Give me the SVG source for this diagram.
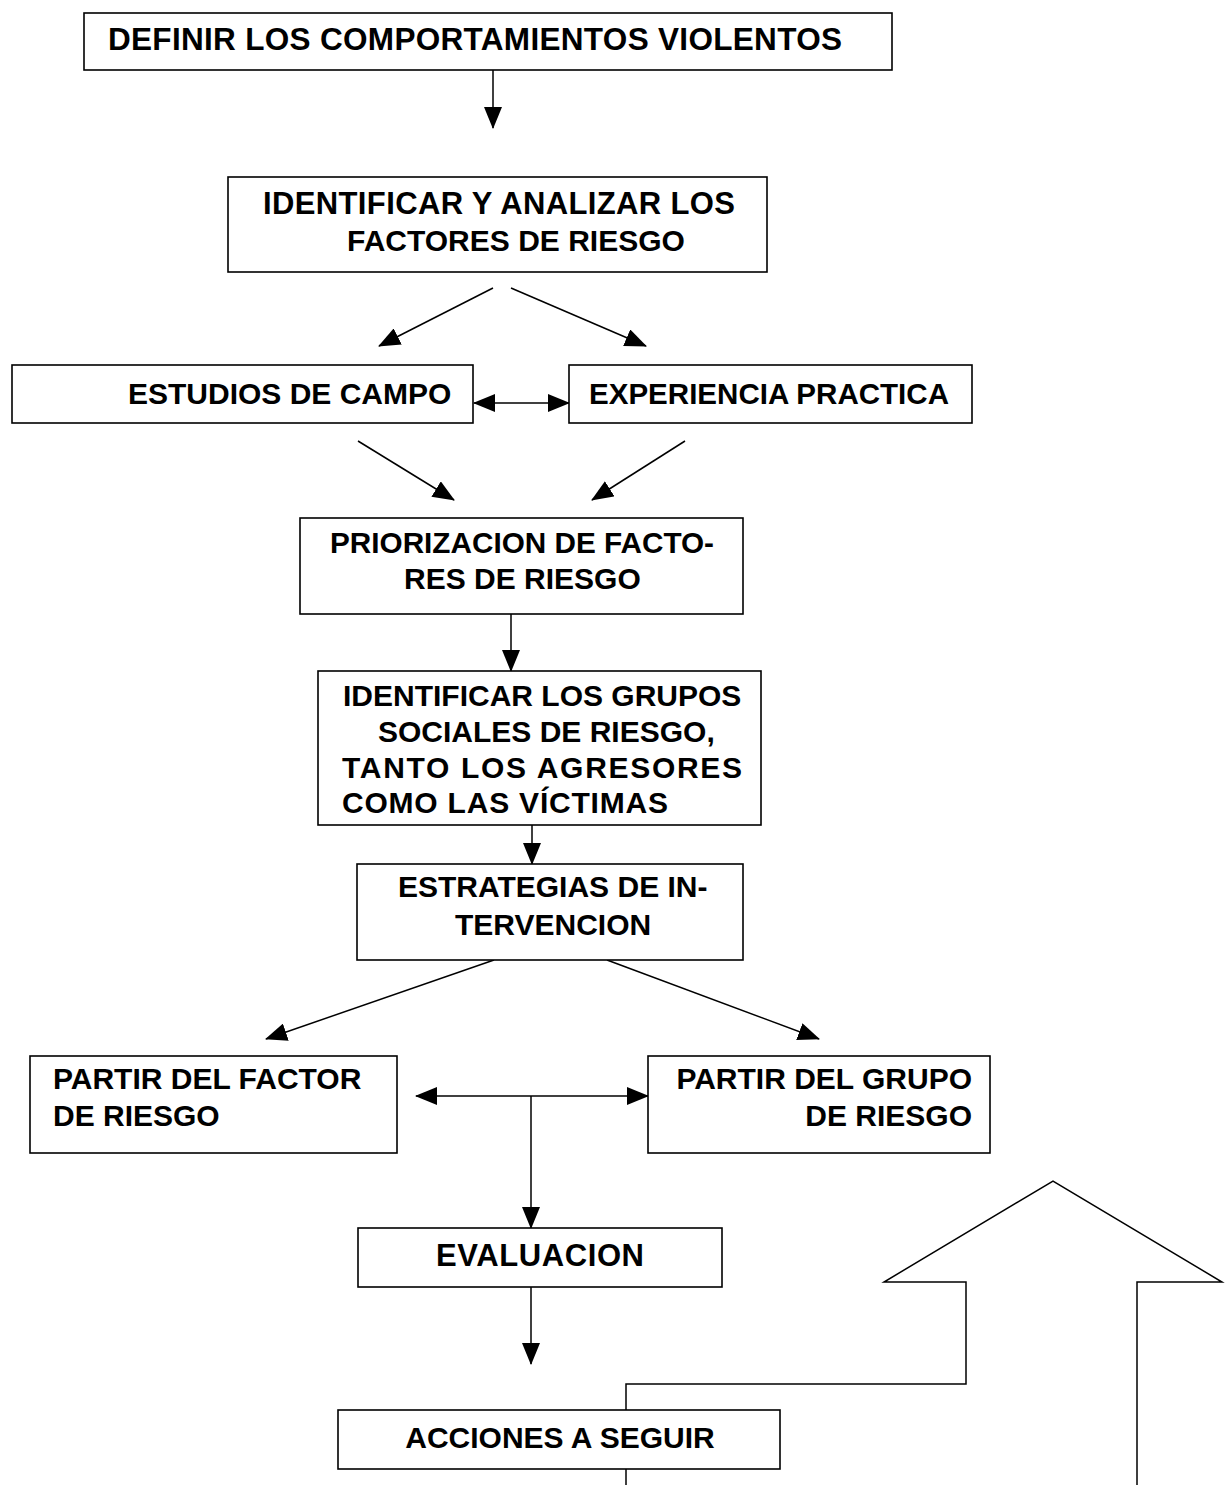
<svg xmlns="http://www.w3.org/2000/svg" width="1232" height="1485" viewBox="0 0 1232 1485">
<defs>
<marker id="ah" markerUnits="userSpaceOnUse" markerWidth="22" markerHeight="18" refX="21" refY="9" orient="auto-start-reverse" viewBox="0 0 22 18">
<path d="M0,0 L22,9 L0,18 z" fill="#000"/>
</marker>
<style>
.box{fill:#fff;stroke:#000;stroke-width:1.6}
.t{font-family:"Liberation Sans",Arial,sans-serif;font-weight:bold;font-size:30px;fill:#000}
.c{fill:none;stroke:#000;stroke-width:1.5}
.a{fill:none;stroke:#000;stroke-width:1.5;marker-end:url(#ah)}
.d{fill:none;stroke:#000;stroke-width:1.5;marker-end:url(#ah);marker-start:url(#ah)}
</style>
</defs>
<rect width="1232" height="1485" fill="#fff"/>
<g id="connectors">
<line class="a" x1="493" y1="70" x2="493" y2="128"/>
<line class="a" x1="493" y1="288" x2="379" y2="346"/>
<line class="a" x1="511" y1="288" x2="646" y2="346"/>
<line class="d" x1="474" y1="403" x2="569" y2="403"/>
<line class="a" x1="358" y1="441" x2="454" y2="500"/>
<line class="a" x1="685" y1="441" x2="592" y2="500"/>
<line class="a" x1="511" y1="614" x2="511" y2="671"/>
<line class="a" x1="532" y1="825" x2="532" y2="864"/>
<line class="a" x1="494" y1="960" x2="266" y2="1039"/>
<line class="a" x1="607" y1="960" x2="819" y2="1039"/>
<line class="d" x1="416" y1="1096" x2="648" y2="1096"/>
<line class="a" x1="531" y1="1096" x2="531" y2="1228"/>
<line class="a" x1="531" y1="1287" x2="531" y2="1364"/>
<polyline class="c" points="626,1410 626,1384 966,1384 966,1282 884,1282 1053,1181 1222,1282 1137,1282 1137,1485"/>
<line class="c" x1="626" y1="1469" x2="626" y2="1485"/>
</g>
<g id="n1">
<rect class="box" x="84" y="13" width="808" height="57"/>
<text class="t" x="108" y="50" style="font-size:31.5px" textLength="734" lengthAdjust="spacing">DEFINIR LOS COMPORTAMIENTOS VIOLENTOS</text>
</g>
<g id="n2">
<rect class="box" x="228" y="177" width="539" height="95"/>
<text class="t" x="263" y="214" style="font-size:31px" textLength="472" lengthAdjust="spacing">IDENTIFICAR Y ANALIZAR LOS</text>
<text class="t" x="347" y="251">FACTORES DE RIESGO</text>
</g>
<g id="n3">
<rect class="box" x="12" y="365" width="461" height="58"/>
<text class="t" x="128" y="404">ESTUDIOS DE CAMPO</text>
</g>
<g id="n4">
<rect class="box" x="569" y="365" width="403" height="58"/>
<text class="t" x="589" y="404" textLength="360" lengthAdjust="spacingAndGlyphs">EXPERIENCIA PRACTICA</text>
</g>
<g id="n5">
<rect class="box" x="300" y="518" width="443" height="96"/>
<text class="t" x="330" y="553" textLength="384" lengthAdjust="spacingAndGlyphs">PRIORIZACION DE FACTO-</text>
<text class="t" x="404" y="589">RES DE RIESGO</text>
</g>
<g id="n6">
<rect class="box" x="318" y="671" width="443" height="154"/>
<text class="t" x="343" y="706">IDENTIFICAR LOS GRUPOS</text>
<text class="t" x="378" y="742">SOCIALES DE RIESGO,</text>
<text class="t" x="342" y="778" textLength="400" lengthAdjust="spacing">TANTO LOS AGRESORES</text>
<text class="t" x="342" y="813" textLength="326" lengthAdjust="spacing">COMO LAS VÍCTIMAS</text>
</g>
<g id="n7">
<rect class="box" x="357" y="864" width="386" height="96"/>
<text class="t" x="398" y="897">ESTRATEGIAS DE IN-</text>
<text class="t" x="455" y="935">TERVENCION</text>
</g>
<g id="n8">
<rect class="box" x="30" y="1056" width="367" height="97"/>
<text class="t" x="53" y="1089">PARTIR DEL FACTOR</text>
<text class="t" x="53" y="1126">DE RIESGO</text>
</g>
<g id="n9">
<rect class="box" x="648" y="1056" width="342" height="97"/>
<text class="t" x="972" y="1089" text-anchor="end">PARTIR DEL GRUPO</text>
<text class="t" x="972" y="1126" text-anchor="end">DE RIESGO</text>
</g>
<g id="n10">
<rect class="box" x="358" y="1228" width="364" height="59"/>
<text class="t" x="540" y="1266" text-anchor="middle" style="font-size:31px" textLength="208" lengthAdjust="spacing">EVALUACION</text>
</g>
<g id="n11">
<rect class="box" x="338" y="1410" width="442" height="59"/>
<text class="t" x="560" y="1448" text-anchor="middle">ACCIONES A SEGUIR</text>
</g>
</svg>
